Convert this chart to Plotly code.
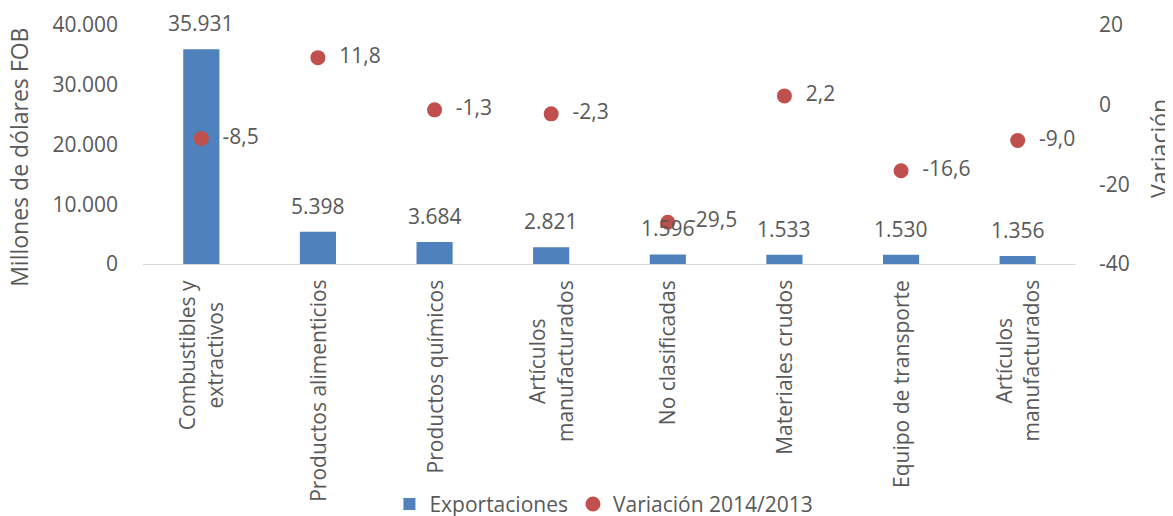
import plotly.graph_objects as go

# ---- data ----
categorias = [
    "Combustibles y<br>extractivos",
    "Productos alimenticios",
    "Productos químicos",
    "Artículos<br>manufacturados",
    "No clasificadas",
    "Materiales crudos",
    "Equipo de transporte",
    "Artículos<br>manufacturados",
]
exportaciones = [35931, 5398, 3684, 2821, 1596, 1533, 1530, 1356]
variacion = [-8.5, 11.8, -1.3, -2.3, -29.5, 2.2, -16.6, -9.0]
ticks_izq = [0, 10000, 20000, 30000, 40000]
ticks_der = [-40, -20, 0, 20]

GRAY = "#595959"
FONT = "Open Sans"
FS = 21
FT = 23


def fmt_miles(v):
    return f"{v:,}".replace(",", ".")


def fmt_dec(v):
    return f"{v:.1f}".replace(".", ",")


x = list(range(len(categorias)))

fig = go.Figure()
fig.add_trace(go.Bar(
    x=x, y=exportaciones, name="Exportaciones",
    marker=dict(color="#4F81BD", line=dict(width=0)),
    yaxis="y",
))
fig.add_trace(go.Scatter(
    x=x, y=variacion, name="Variación 2014/2013",
    mode="markers+text",
    marker=dict(color="#C0504D", size=15),
    text=["\u00a0\u00a0" + fmt_dec(v) for v in variacion],
    textposition="middle right",
    textfont=dict(family=FONT, size=FS, color=GRAY),
    yaxis="y2", cliponaxis=False,
))

# bar value labels
for xi, v in zip(x, exportaciones):
    fig.add_annotation(
        x=xi, y=v, xref="x", yref="y", text=fmt_miles(v), showarrow=False,
        yanchor="bottom", yshift=10, font=dict(family=FONT, size=FS, color=GRAY),
    )

# category labels
for xi, c in zip(x, categorias):
    fig.add_annotation(
        x=xi, y=-0.058, xref="x", yref="paper", text=c, textangle=-90,
        showarrow=False, yanchor="top", xanchor="center", align="center",
        font=dict(family=FONT, size=FS, color=GRAY),
    )

# axis titles
fig.add_annotation(
    x=-0.133, y=0.448, xref="paper", yref="paper", text="Millones de dólares FOB",
    textangle=-90, showarrow=False, xanchor="center", yanchor="middle",
    font=dict(family=FONT, size=FT, color=GRAY),
)
fig.add_annotation(
    x=1.089, y=0.481, xref="paper", yref="paper", text="Variación",
    textangle=-90, showarrow=False, xanchor="center", yanchor="middle",
    font=dict(family=FONT, size=FT, color=GRAY),
)

fig.update_layout(
    width=1173, height=516, autosize=False,
    margin=dict(l=135, r=105, t=17, b=260, autoexpand=False),
    paper_bgcolor="white", plot_bgcolor="white",
    font=dict(family=FONT, size=FS, color=GRAY),
    bargap=0.69,
    showlegend=True,
    legend=dict(
        orientation="h", x=0.494, xanchor="center",
        yref="container", y=0.038, yanchor="middle",
        font=dict(family=FONT, size=FS, color=GRAY), itemwidth=30,
        traceorder="normal",
    ),
    xaxis=dict(
        range=[-0.5, 7.5], showticklabels=False, showline=True, automargin=False,
        linecolor="#D9D9D9", linewidth=1, showgrid=False, zeroline=False, ticks="",
    ),
    yaxis=dict(
        range=[0, 40000], tickmode="array", tickvals=ticks_izq, automargin=False,
        ticktext=[fmt_miles(t) for t in ticks_izq],
        showgrid=False, zeroline=False, showline=False, ticks="",
        tickfont=dict(family=FONT, size=FS, color=GRAY), ticklabelstandoff=24,
    ),
    yaxis2=dict(
        range=[-40, 20], overlaying="y", side="right", tickmode="array",
        tickvals=ticks_der, ticktext=[str(t) for t in ticks_der], automargin=False,
        showgrid=False, zeroline=False, showline=False, ticks="",
        tickfont=dict(family=FONT, size=FS, color=GRAY), ticklabelstandoff=22,
    ),
)

fig.write_html("out.html")
